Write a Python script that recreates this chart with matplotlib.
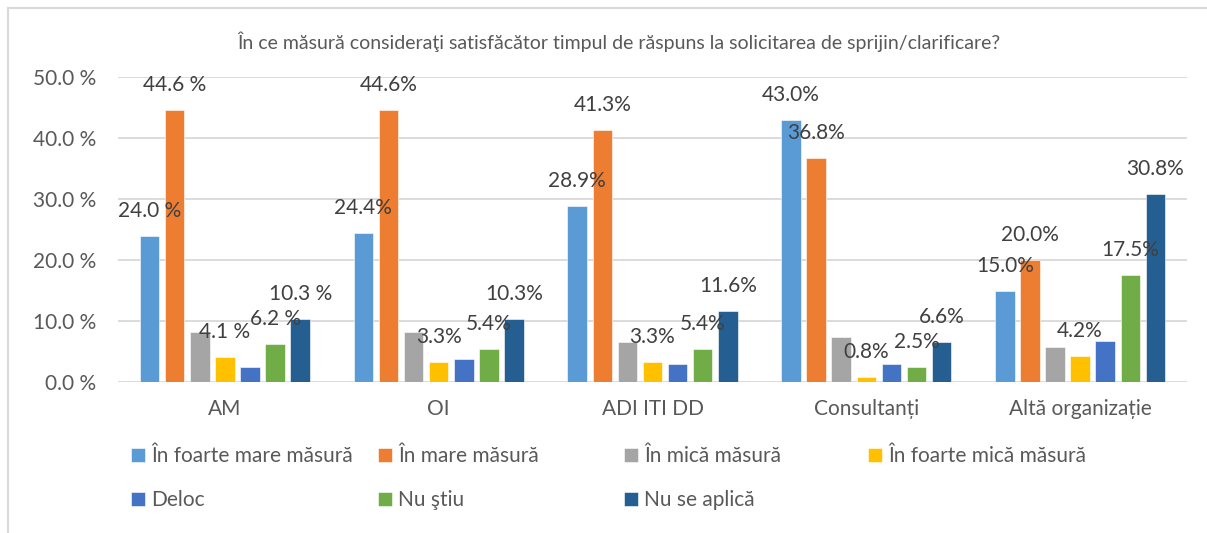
import matplotlib
matplotlib.use("Agg")
import matplotlib.pyplot as plt
from matplotlib.lines import Line2D
import numpy as np

plt.rcParams['font.family'] = ['Lato', 'DejaVu Sans']

# --- data ---
categories = ["AM", "OI", "ADI ITI DD", "Consultanți", "Altă organizație"]
series_names = ["În foarte mare măsură", "În mare măsură", "În mică măsură",
                "În foarte mică măsură", "Deloc", "Nu ştiu", "Nu se aplică"]
foarte_mare = [24.0, 24.4, 28.9, 43.0, 15.0]
mare = [44.6, 44.6, 41.3, 36.8, 20.0]
mica = [8.2, 8.2, 6.6, 7.4, 5.8]
foarte_mica = [4.1, 3.3, 3.3, 0.8, 4.2]
deloc = [2.5, 3.7, 2.9, 2.9, 6.7]
nu_stiu = [6.2, 5.4, 5.4, 2.5, 17.5]
nu_se_aplica = [10.3, 10.3, 11.6, 6.6, 30.8]
all_series = [foarte_mare, mare, mica, foarte_mica, deloc, nu_stiu, nu_se_aplica]
labelled = [True, True, False, True, False, True, True]
label_suffix = [" %", "%", "%", "%", "%"]
yticks = [0, 10, 20, 30, 40, 50]

colors = ['#5B9BD5', '#ED7D31', '#A5A5A5', '#FFC000', '#4472C4', '#70AD47', '#255E91']
text_col = '#595959'
grid_col = '#D9D9D9'

W, H = 1207, 533
fig = plt.figure(figsize=(W / 100, H / 100), dpi=100)
ax = fig.add_axes([118 / W, 1 - 382 / H, (1187 - 118) / W, (382 - 77) / H])

x = np.arange(len(categories))
pitch = 0.1174
bw = 0.091
bars = []
for k, vals in enumerate(all_series):
    pos = x + (k - 3) * pitch
    b = ax.bar(pos, vals, width=bw, color=colors[k], edgecolor='white',
               linewidth=0.4, label=series_names[k], zorder=3)
    bars.append(b)
    if labelled[k]:
        for i, (p, v) in enumerate(zip(pos, vals)):
            ax.annotate(f"{v:.1f}{label_suffix[i]}", (p, v), xytext=(0, 18),
                        textcoords='offset points', ha='center', va='center',
                        fontsize=15, color='#404040', zorder=5,
                        annotation_clip=False)

ax.set_xlim(-0.5, len(categories) - 0.5)
ax.set_ylim(0, 50)
ax.set_yticks(yticks)
ax.set_yticklabels([f"{t:.1f} %" for t in yticks])
ax.set_xticks(x)
ax.set_xticklabels(categories)
ax.tick_params(axis='y', length=0, pad=16, labelsize=15, labelcolor=text_col)
ax.tick_params(axis='x', length=0, pad=12, labelsize=15, labelcolor=text_col)
ax.yaxis.grid(True, color=grid_col, linewidth=1.3, zorder=0)
ax.set_axisbelow(True)
for s in ax.spines.values():
    s.set_visible(False)

fig.text(619 / W, 1 - 42 / H,
         "În ce măsură consideraţi satisfăcător timpul de răspuns la solicitarea de sprijin/clarificare?",
         ha='center', va='center', fontsize=14, color=text_col)

# legend: four equal-width columns like the Excel legend
col_x = [131, 378, 624, 868]
columns = [[0, 4], [1, 5], [2, 6], [3]]
for cx, idx in zip(col_x, columns):
    leg = ax.legend([bars[j] for j in idx], [series_names[j] for j in idx],
                    loc='upper left', bbox_to_anchor=(cx / W, 1 - 446 / H),
                    bbox_transform=fig.transFigure, frameon=False,
                    fontsize=15, labelcolor=text_col, borderpad=0,
                    borderaxespad=0, handlelength=0.67, handleheight=0.67,
                    handletextpad=0.3, labelspacing=1.15)
    ax.add_artist(leg)
ax.legend_ = None  # avoid drawing the last legend twice

# chart frame (top and left edges visible in the reference)
fig.add_artist(Line2D([8 / W, 1], [1 - 8 / H, 1 - 8 / H], color=grid_col,
                      linewidth=1.5, transform=fig.transFigure))
fig.add_artist(Line2D([8 / W, 8 / W], [0, 1 - 8 / H], color=grid_col,
                      linewidth=1.5, transform=fig.transFigure))

fig.savefig("out.png", dpi=100)
